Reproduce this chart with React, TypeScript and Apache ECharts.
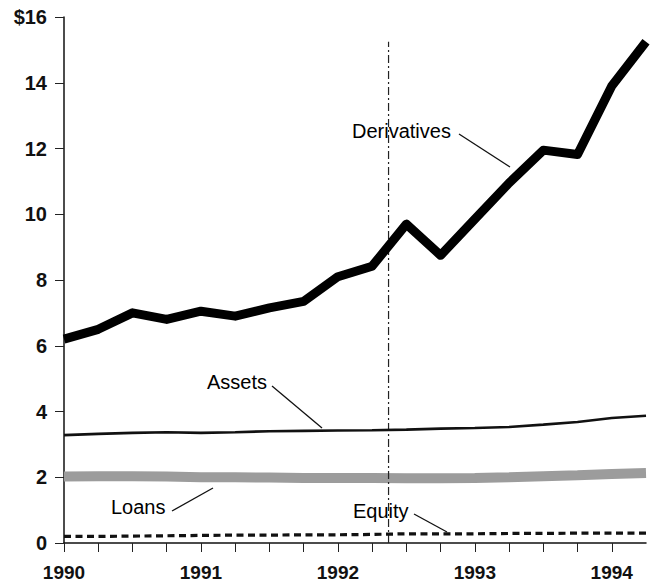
import React, { useEffect, useRef } from "react";
import * as echarts from "echarts";

const quarters = [
  1990, 1990.25, 1990.5, 1990.75,
  1991, 1991.25, 1991.5, 1991.75,
  1992, 1992.25, 1992.5, 1992.75,
  1993, 1993.25, 1993.5, 1993.75,
  1994, 1994.25,
];
const derivatives = [6.2, 6.5, 7.0, 6.8, 7.05, 6.9, 7.15, 7.35, 8.1, 8.42, 9.7, 8.75, 9.85, 10.95, 11.95, 11.82, 13.9, 15.25];
const assets = [3.28, 3.32, 3.35, 3.37, 3.35, 3.37, 3.4, 3.41, 3.42, 3.43, 3.45, 3.48, 3.5, 3.53, 3.6, 3.68, 3.8, 3.87];
const loans = [2.02, 2.03, 2.03, 2.02, 2.0, 2.0, 1.99, 1.98, 1.98, 1.98, 1.97, 1.97, 1.98, 2.0, 2.03, 2.06, 2.1, 2.13];
const equity = [0.2, 0.2, 0.21, 0.22, 0.23, 0.24, 0.24, 0.25, 0.25, 0.26, 0.28, 0.28, 0.28, 0.29, 0.29, 0.3, 0.3, 0.3];
const markerDate = 1992.37;
const markerTop = 15.25;
const yTicks = [0, 2, 4, 6, 8, 10, 12, 14, 16];

const FONT = "'Liberation Sans', Arial, Helvetica, sans-serif";

const pairs = (vals: number[]) => quarters.map((q, i) => [q, vals[i]]);

export default function App() {
  const ref = useRef<HTMLDivElement>(null);
  useEffect(() => {
    if (!ref.current) return;
    const chart = echarts.init(ref.current, undefined, { renderer: "svg" });
    const textStyle = { fontFamily: FONT, fontSize: 20, fill: "#000" };
    chart.setOption({
      animation: false,
      backgroundColor: "#fff",
      grid: { left: 64, right: 7, top: 17, bottom: 37, containLabel: false },
      xAxis: {
        type: "value",
        min: 1990,
        max: 1994.25,
        interval: 0.25,
        axisLine: { show: true, lineStyle: { color: "#111", width: 1.5 } },
        axisTick: { show: true, inside: false, length: 9, lineStyle: { color: "#222", width: 1 } },
        splitLine: { show: false },
        axisLabel: {
          margin: 20,
          fontFamily: FONT,
          fontSize: 19,
          fontWeight: "bold",
          color: "#111",
          showMaxLabel: false,
          formatter: (v: number) => (Number.isInteger(v) ? String(v) : ""),
        },
      },
      yAxis: {
        type: "value",
        min: yTicks[0],
        max: yTicks[yTicks.length - 1],
        interval: 2,
        axisLine: { show: true, lineStyle: { color: "#111", width: 1.5 } },
        axisTick: { show: true, inside: false, length: 9, lineStyle: { color: "#222", width: 1 } },
        splitLine: { show: false },
        axisLabel: {
          margin: 17,
          fontFamily: FONT,
          fontSize: 20,
          fontWeight: "bold",
          color: "#111",
          formatter: (v: number) => (v === 16 ? "$16" : String(v)),
        },
      },
      series: [
        {
          name: "Loans",
          type: "line",
          showSymbol: false,
          data: pairs(loans),
          lineStyle: { color: "#9c9c9c", width: 10 },
          z: 2,
        },
        {
          name: "Marker",
          type: "line",
          showSymbol: false,
          data: [[markerDate, 0], [markerDate, markerTop]],
          lineStyle: { color: "#222", width: 1.2, type: [8, 3, 2, 3] },
          z: 3,
        },
        {
          name: "Assets",
          type: "line",
          showSymbol: false,
          data: pairs(assets),
          lineStyle: { color: "#111", width: 2.6 },
          z: 4,
        },
        {
          name: "Equity",
          type: "line",
          showSymbol: false,
          data: pairs(equity),
          lineStyle: { color: "#111", width: 3.2, type: [7, 4.5] },
          z: 4,
        },
        {
          name: "Derivatives",
          type: "line",
          showSymbol: false,
          data: pairs(derivatives),
          lineStyle: { color: "#000", width: 9, join: "round", cap: "butt" },
          z: 5,
        },
      ],
      graphic: [
        { type: "text", left: 352, top: 121, style: { ...textStyle, text: "Derivatives" } },
        { type: "line", shape: { x1: 459, y1: 134, x2: 510, y2: 167 }, style: { stroke: "#111", lineWidth: 1.3 } },
        { type: "text", left: 207, top: 372, style: { ...textStyle, text: "Assets" } },
        { type: "line", shape: { x1: 272, y1: 386, x2: 322, y2: 428 }, style: { stroke: "#111", lineWidth: 1.3 } },
        { type: "text", left: 111, top: 497, style: { ...textStyle, text: "Loans" } },
        { type: "line", shape: { x1: 172, y1: 511, x2: 213, y2: 488 }, style: { stroke: "#111", lineWidth: 1.3 } },
        { type: "text", left: 353, top: 501, style: { ...textStyle, text: "Equity" } },
        { type: "line", shape: { x1: 414, y1: 514, x2: 447, y2: 532 }, style: { stroke: "#111", lineWidth: 1.3 } },
      ],
    });
    return () => chart.dispose();
  }, []);
  return (
    <div
      ref={ref}
      style={{ position: "fixed", left: 0, top: 0, width: 653, height: 582, background: "#fff" }}
    />
  );
}
